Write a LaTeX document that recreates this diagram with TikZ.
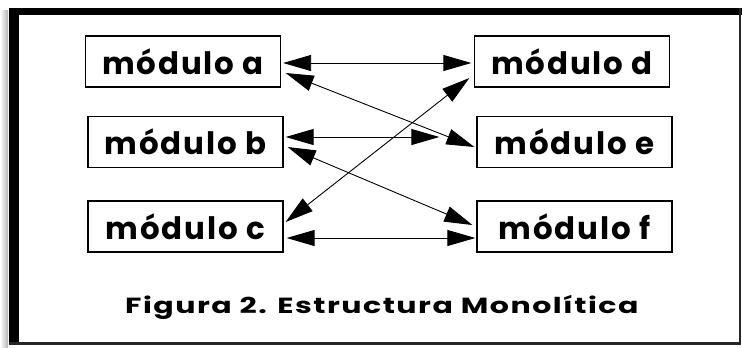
\documentclass[tikz,border=0pt]{standalone}
\usepackage{fontspec}
\setmainfont{Poppins}
\usetikzlibrary{arrows.meta,calc}
\tikzset{
  modbox/.style={draw=black, line width=1.3bp, minimum width=195bp, minimum height=51bp,
    inner sep=0pt, font=\fontsize{31}{36}\selectfont\bfseries\addfontfeatures{LetterSpace=6}},
  link/.style={line width=0.9bp, {Triangle[length=28bp,width=16bp]}-{Triangle[length=28bp,width=16bp]}},
  captxt/.style={font=\fontsize{22}{26}\selectfont\bfseries\addfontfeatures{LetterSpace=5}, inner sep=0pt},
}
\begin{document}
\begin{tikzpicture}[x=1bp,y=-1bp]
\useasboundingbox (0,0) rectangle (742,347);
% frame
\shade[left color=white, right color=gray!60] (0,10) rectangle (8,347);
\fill[black] (9,8) rectangle (19,345);
\fill[black] (9,8) rectangle (742,15);
\fill[black!85] (739,8) rectangle (741,345);
\fill[black!85] (9,342) rectangle (741,345);
% boxes
\node[modbox] (a) at (183,61.5) {módulo a};
\node[modbox] (b) at (185.5,142) {módulo b};
\node[modbox] (c) at (185.5,226.5) {módulo c};
\node[modbox] (d) at (572,61.5) {módulo d};
\node[modbox] (e) at (574.5,142) {módulo e};
\node[modbox] (f) at (574.5,226.5) {módulo f};
\coordinate (eshort) at ($(e.west)+(-37,-5)$);
% connectors
\draw[link] ($(a.east)+(2,1.5)$) -- ($(d.west)+(-2.5,1.5)$);
\draw[link] ($(a.east)+(4.5,11.5)$) -- ($(e.west)+(-2,5)$);
\draw[link] ($(b.east)+(2,-5)$) -- (eshort);
\draw[link] ($(b.east)+(4,5)$) -- ($(f.west)+(-4,-1.5)$);
\draw[link] ($(c.east)+(2,-4.5)$) -- ($(d.west)+(-4.5,16.5)$);
\draw[link] ($(c.east)+(3,11.5)$) -- ($(f.west)+(-1,11.5)$);
% caption
\node[captxt, anchor=base west] (cap) at (125,313) {\scalebox{1.37}[1]{Figura 2. Estructura Monolítica}};
\end{tikzpicture}
\end{document}
